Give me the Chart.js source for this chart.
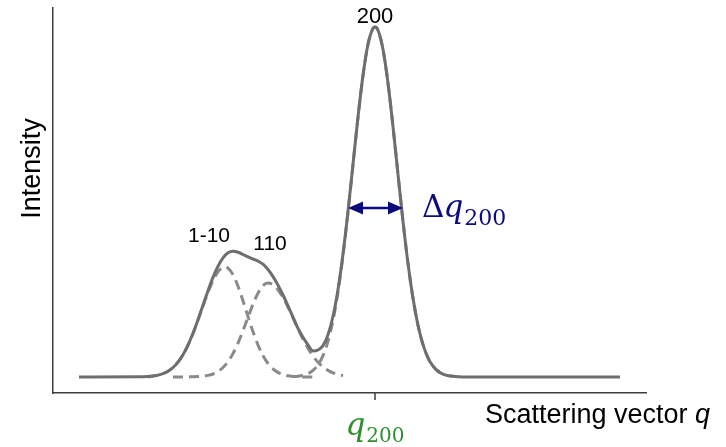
<!DOCTYPE html>
<html>
<head>
<meta charset="utf-8">
<script src="https://cdn.jsdelivr.net/npm/chart.js@4.4.1/dist/chart.umd.min.js"></script>
<style>
  html, body { margin: 0; padding: 0; background: #fff; }
</style>
</head>
<body>
<canvas id="myChart" width="726" height="447"></canvas>
<script>
// measured profile (sum) and the three fitted peaks, q and intensity in a.u.
const qTotal = [2.6, 9, 10, 10.5, 11, 11.5, 12, 12.5, 13, 13.5, 14, 14.5, 15, 15.5, 16, 16.5, 17, 17.5, 18, 18.5,
  19, 19.5, 20, 20.5, 21, 21.5, 22, 22.5, 23, 23.5, 24, 24.5, 25, 25.5, 26, 26.5, 27, 27.5, 28, 28.5,
  29, 29.5, 30, 30.5, 31, 31.5, 32, 32.2, 32.5, 33, 33.5, 34, 34.5, 35, 35.5, 36, 36.5, 37, 37.5, 38,
  38.5, 39, 39.5, 40, 41, 56.7];
const intTotal = [1.6, 1.62, 1.70, 1.79, 1.94, 2.18, 2.55, 3.09, 3.83, 4.79, 5.97, 7.33, 8.78, 10.23, 11.56, 12.67, 13.51, 14.02, 14.17, 14.07,
  13.85, 13.61, 13.40, 13.19, 12.88, 12.35, 11.64, 10.79, 9.80, 8.71, 7.58, 6.46, 5.58, 4.82, 4.2, 4.30, 4.74, 5.83, 7.67, 10.36,
  13.90, 18.16, 22.88, 27.59, 31.77, 34.87, 36.46, 36.6, 36.28, 34.36, 30.99, 26.64, 21.87, 17.17, 12.96, 9.47, 6.78, 4.84, 3.52, 2.68,
  2.18, 1.89, 1.74, 1.67, 1.61, 1.6];

const q1m10 = [9.5, 10, 10.5, 11, 11.5, 12, 12.5, 13, 13.5, 14, 14.5, 15, 15.5, 16, 16.5, 17, 17.2, 17.5, 18, 18.5,
  19, 19.5, 20, 20.5, 21, 21.5, 22, 22.5, 23, 23.5, 24, 24.5, 25, 26];
const int1m10 = [1.6, 1.70, 1.79, 1.94, 2.18, 2.55, 3.09, 3.83, 4.78, 5.95, 7.29, 8.70, 10.07, 11.26, 12.12, 12.56, 12.6, 12.49, 11.83, 10.68,
  9.22, 7.64, 6.12, 4.80, 3.74, 2.95, 2.41, 2.06, 1.84, 1.72, 1.66, 1.63, 1.61, 1.6];

const q110 = [12, 13, 13.5, 14, 14.5, 15, 15.5, 16, 16.5, 17, 17.5, 18, 18.5, 19, 19.5, 20, 20.5, 21, 21.5, 22,
  22.5, 23, 23.5, 24, 24.5, 25, 25.5, 26, 26.5, 27, 27.5, 28, 28.5, 29];
const int110 = [1.6, 1.6, 1.61, 1.62, 1.64, 1.68, 1.76, 1.90, 2.15, 2.55, 3.13, 3.94, 4.99, 6.23, 7.57, 8.88, 9.99, 10.74, 11.0, 10.83,
  10.33, 9.56, 8.59, 7.52, 6.43, 5.40, 4.48, 3.70, 3.08, 2.60, 2.26, 2.01, 1.85, 1.75];

const q200 = [24, 24.5, 25, 25.5, 26, 26.5, 27, 27.5, 28, 28.5, 29, 29.5, 30, 30.5, 31, 31.5, 32, 32.2, 32.5, 33,
  33.5, 34, 34.5, 35, 35.5, 36, 36.5, 37, 37.5, 38, 38.5, 39, 39.5, 40];
const int200 = [1.64, 1.68, 1.77, 1.94, 2.26, 2.82, 3.74, 5.17, 7.26, 10.11, 13.75, 18.08, 22.83, 27.57, 31.76, 34.87, 36.46, 36.6, 36.28, 34.36,
  30.99, 26.64, 21.87, 17.17, 12.96, 9.47, 6.78, 4.84, 3.52, 2.68, 2.18, 1.89, 1.74, 1.67];

// peak position of 200 and the half-maximum width edges
const q200Center = 32.2;
const fwhmEdges = [29.5, 35.0];
const halfMax = 18.5;

const toPoints = (xs, ys) => xs.map((x, i) => ({ x: x, y: ys[i] }));

const solidGray = "#6e6e6e";
const dashGray = "#8a8a8a";
const axisColor = "#3d3d3d";
const navy = "#0b0b80";
const green = "#2f8f2f";

const annotations = {
  id: "annotations",
  afterDraw(chart) {
    const { ctx, scales: { x, y } } = chart;
    ctx.save();

    // tick mark at q200
    const tx = x.getPixelForValue(q200Center);
    ctx.strokeStyle = axisColor;
    ctx.lineWidth = 1.5;
    ctx.beginPath();
    ctx.moveTo(tx, y.bottom);
    ctx.lineTo(tx, y.bottom + 7);
    ctx.stroke();

    // peak labels
    ctx.fillStyle = "#000";
    ctx.textAlign = "center";
    ctx.textBaseline = "alphabetic";
    ctx.font = '22px "Liberation Sans", Arial, sans-serif';
    ctx.fillText("200", tx, y.getPixelForValue(37.0));
    ctx.font = '21px "Liberation Sans", Arial, sans-serif';
    ctx.fillText("1-10", x.getPixelForValue(15.6), y.getPixelForValue(15.1));
    ctx.fillText("110", x.getPixelForValue(21.7), y.getPixelForValue(14.3));

    // FWHM double arrow
    const x1 = x.getPixelForValue(fwhmEdges[0]);
    const x2 = x.getPixelForValue(fwhmEdges[1]);
    const ay = y.getPixelForValue(halfMax);
    ctx.strokeStyle = navy;
    ctx.fillStyle = navy;
    ctx.lineWidth = 2.5;
    ctx.beginPath();
    ctx.moveTo(x1 + 10, ay);
    ctx.lineTo(x2 - 10, ay);
    ctx.stroke();
    ctx.beginPath();
    ctx.moveTo(x1, ay);
    ctx.lineTo(x1 + 15, ay - 6.5);
    ctx.lineTo(x1 + 15, ay + 6.5);
    ctx.closePath();
    ctx.fill();
    ctx.beginPath();
    ctx.moveTo(x2, ay);
    ctx.lineTo(x2 - 15, ay - 6.5);
    ctx.lineTo(x2 - 15, ay + 6.5);
    ctx.closePath();
    ctx.fill();

    // Δq200 label
    ctx.textAlign = "left";
    let px = x2 + 19;
    ctx.font = '31px "DejaVu Serif", serif';
    ctx.fillText("Δ", px, ay + 9);
    px += ctx.measureText("Δ").width - 1;
    ctx.font = 'italic 31px "DejaVu Serif", serif';
    ctx.fillText("q", px, ay + 9);
    px += ctx.measureText("q").width + 1;
    ctx.font = '22px "DejaVu Serif", serif';
    ctx.fillText("200", px, ay + 17);

    // q200 under the axis
    ctx.fillStyle = green;
    ctx.font = 'italic 31px "DejaVu Serif", serif';
    const qw = ctx.measureText("q").width;
    ctx.font = '20px "DejaVu Serif", serif';
    const sw = ctx.measureText("200").width;
    const gx = tx - (qw + sw + 1) / 2;
    ctx.font = 'italic 31px "DejaVu Serif", serif';
    ctx.fillText("q", gx, y.bottom + 42);
    ctx.font = '20px "DejaVu Serif", serif';
    ctx.fillText("200", gx + qw + 1, y.bottom + 49);

    // axis titles
    ctx.fillStyle = "#000";
    ctx.font = '27px "Liberation Sans", Arial, sans-serif';
    const xt = "Scattering vector ";
    ctx.fillText(xt, 485, y.bottom + 30);
    const xtw = ctx.measureText(xt).width;
    ctx.font = 'italic 27px "Liberation Sans", Arial, sans-serif';
    ctx.fillText("q", 485 + xtw, y.bottom + 30);

    ctx.translate(40, (y.top + y.bottom) / 2 - 32);
    ctx.rotate(-Math.PI / 2);
    ctx.textAlign = "center";
    ctx.font = '27px "Liberation Sans", Arial, sans-serif';
    ctx.fillText("Intensity", 0, 0);

    ctx.restore();
  },
};

const ctx = document.getElementById("myChart").getContext("2d");

const myChart = new Chart(ctx, {
  type: "line",
  data: {
    datasets: [
      {
        label: "Measured",
        data: toPoints(qTotal, intTotal),
        borderColor: solidGray,
        borderWidth: 3,
        cubicInterpolationMode: "monotone",
      },
      {
        label: "1-10",
        data: toPoints(q1m10, int1m10),
        borderColor: dashGray,
        borderWidth: 3,
        borderDash: [10, 6],
        cubicInterpolationMode: "monotone",
      },
      {
        label: "110",
        data: toPoints(q110, int110),
        borderColor: dashGray,
        borderWidth: 3,
        borderDash: [10, 6],
        cubicInterpolationMode: "monotone",
      },
      {
        label: "200",
        data: toPoints(q200, int200),
        borderColor: dashGray,
        borderWidth: 3,
        borderDash: [10, 6],
        cubicInterpolationMode: "monotone",
      },
    ],
  },
  options: {
    responsive: false,
    animation: false,
    devicePixelRatio: 1,
    layout: { padding: { left: 53, right: 80, top: 8, bottom: 54 } },
    elements: { point: { radius: 0 } },
    plugins: {
      legend: { display: false },
      tooltip: { enabled: false },
    },
    scales: {
      x: {
        type: "linear",
        min: 0,
        max: 59.3,
        grid: { display: false, drawTicks: false },
        border: { display: true, color: axisColor, width: 1.5 },
        ticks: { display: false },
      },
      y: {
        min: 0,
        max: 38.5,
        grid: { display: false, drawTicks: false },
        border: { display: true, color: axisColor, width: 1.5 },
        ticks: { display: false },
      },
    },
  },
  plugins: [annotations],
});
</script>
</body>
</html>
